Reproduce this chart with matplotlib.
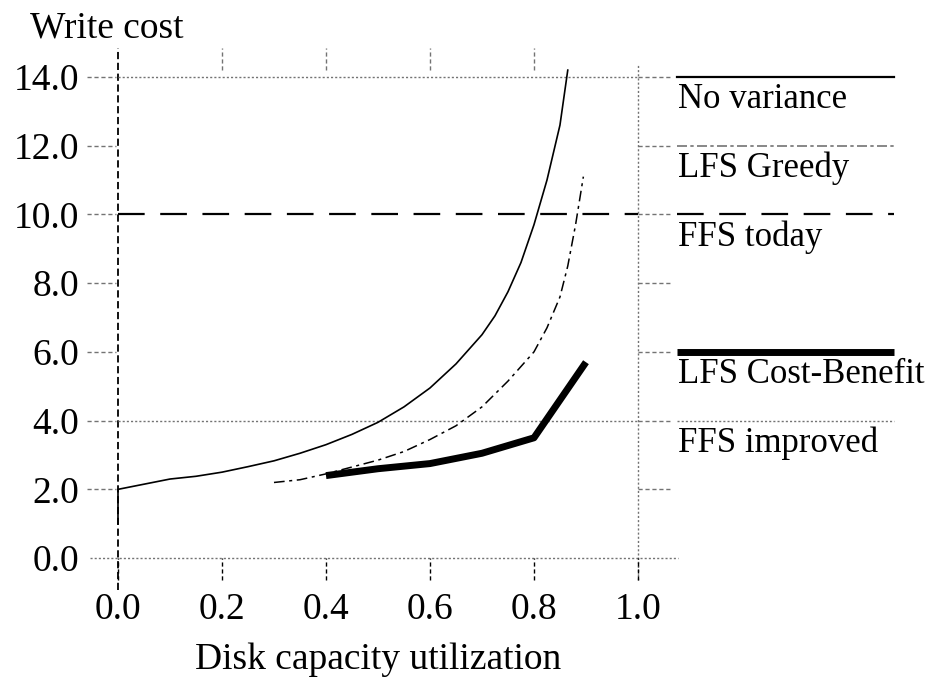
import matplotlib
matplotlib.use('Agg')
import matplotlib.pyplot as plt

plt.rcParams['font.family'] = ['Liberation Serif', 'DejaVu Serif']

# данные
util_nv = [0.0, 0.0, 0.05, 0.1, 0.15, 0.2, 0.25, 0.3, 0.35, 0.4, 0.45, 0.5,
           0.55, 0.6, 0.65, 0.7, 0.725, 0.75, 0.775, 0.8, 0.825, 0.85, 0.865]
cost_nv = [1.0, 2.0, 2.15, 2.3, 2.38, 2.5, 2.66, 2.83, 3.05, 3.3, 3.6, 3.95,
           4.4, 4.95, 5.65, 6.5, 7.05, 7.75, 8.6, 9.7, 11.0, 12.6, 14.2]

util_greedy = [0.3, 0.35, 0.4, 0.45, 0.5, 0.55, 0.6, 0.65, 0.7, 0.75, 0.8,
               0.825, 0.85, 0.865, 0.88, 0.895]
cost_greedy = [2.2, 2.28, 2.45, 2.65, 2.85, 3.1, 3.45, 3.85, 4.4, 5.15, 6.0,
               6.7, 7.6, 8.5, 9.7, 11.1]

util_cb = [0.4, 0.5, 0.6, 0.7, 0.8, 0.9]
cost_cb = [2.4, 2.6, 2.75, 3.05, 3.5, 5.7]

ffs_today = 10.0
ffs_improved = 4.0

x_ticks = [0.0, 0.2, 0.4, 0.6, 0.8, 1.0]
x_labels = ['0.0', '0.2', '0.4', '0.6', '0.8', '1.0']
y_ticks = [0, 2, 4, 6, 8, 10, 12, 14]
y_labels = ['0.0', '2.0', '4.0', '6.0', '8.0', '10.0', '12.0', '14.0']

legend_names = ['No variance', 'LFS Greedy', 'FFS today', 'LFS Cost-Benefit', 'FFS improved']
legend_levels = [14, 12, 10, 6, 4]

fig = plt.figure(figsize=(9.32, 6.9), dpi=100)
ax = fig.add_axes([0.0987, 0.1414, 0.6416, 0.7968])
ax.set_xlim(-0.05, 1.1)
ax.set_ylim(-1.0, 15.0)
for s in ax.spines.values():
    s.set_visible(False)

grey = '0.45'
dot = (0, (1.5, 1.5))
dash_short = (0, (3, 2))

# рамка и сетка
ax.plot([0, 0], [-0.93, 14.85], color='black', lw=1.3, ls=(0, (4, 2)), clip_on=False)
ax.plot([1, 1], [-0.64, 14.35], color=grey, lw=1.0, ls=dot, clip_on=False)
ax.plot([-0.054, 1.077], [0, 0], color=grey, lw=1.0, ls=dot, clip_on=False)
ax.plot([0, 1], [14, 14], color=grey, lw=1.0, ls=dot, clip_on=False)
ax.plot([0, 1], [ffs_improved, ffs_improved], color=grey, lw=1.0, ls=dot)
ax.plot([0, 1], [ffs_today, ffs_today], color='black', lw=1.6, ls=(0, (12, 7)))

# засечки
ax.hlines(y_ticks[1:], -0.06, -0.004, colors=grey, lw=1.0, linestyles=dash_short, clip_on=False)
ax.hlines(y_ticks[1:], 1.0, 1.065, colors=grey, lw=1.0, linestyles=dash_short, clip_on=False)
ax.vlines(x_ticks, -0.64, 0, colors='black', lw=1.0, linestyles=dash_short, clip_on=False)
ax.vlines(x_ticks[1:-1], 14.2, 14.84, colors=grey, lw=1.0, linestyles=dash_short, clip_on=False)

# кривые
ax.plot(util_nv, cost_nv, color='black', lw=1.2)
ax.plot(util_greedy, cost_greedy, color='black', lw=1.1, ls=(0, (7, 3, 2, 3)))
ax.plot(util_cb, cost_cb, color='black', lw=5.0, solid_capstyle='butt')

# легенда справа
styles = [dict(color='black', lw=1.6),
          dict(color=grey, lw=1.2, ls=(0, (6, 2, 2, 2))),
          dict(color='black', lw=1.6, ls=(0, (12, 7))),
          dict(color='black', lw=5.0, solid_capstyle='butt'),
          dict(color=grey, lw=1.0, ls=dot)]
for name, lvl, st in zip(legend_names, legend_levels, styles):
    ax.plot([1.075, 1.492], [lvl, lvl], clip_on=False, **st)
    ax.text(1.077, lvl - 0.65, name, fontsize=25, va='center', ha='left')

ax.set_xticks(x_ticks)
ax.set_xticklabels(x_labels, fontsize=27)
ax.set_yticks(y_ticks)
ax.set_yticklabels(y_labels, fontsize=27)
ax.tick_params(axis='both', length=0)
ax.tick_params(axis='x', pad=0)
ax.tick_params(axis='y', pad=9)

fig.text(378 / 932, 1 - 660 / 690, 'Disk capacity utilization', fontsize=27, va='center', ha='center')
fig.text(30 / 932, 1 - 28 / 690, 'Write cost', fontsize=27, va='center', ha='left')

fig.savefig('out.png', dpi=100)
